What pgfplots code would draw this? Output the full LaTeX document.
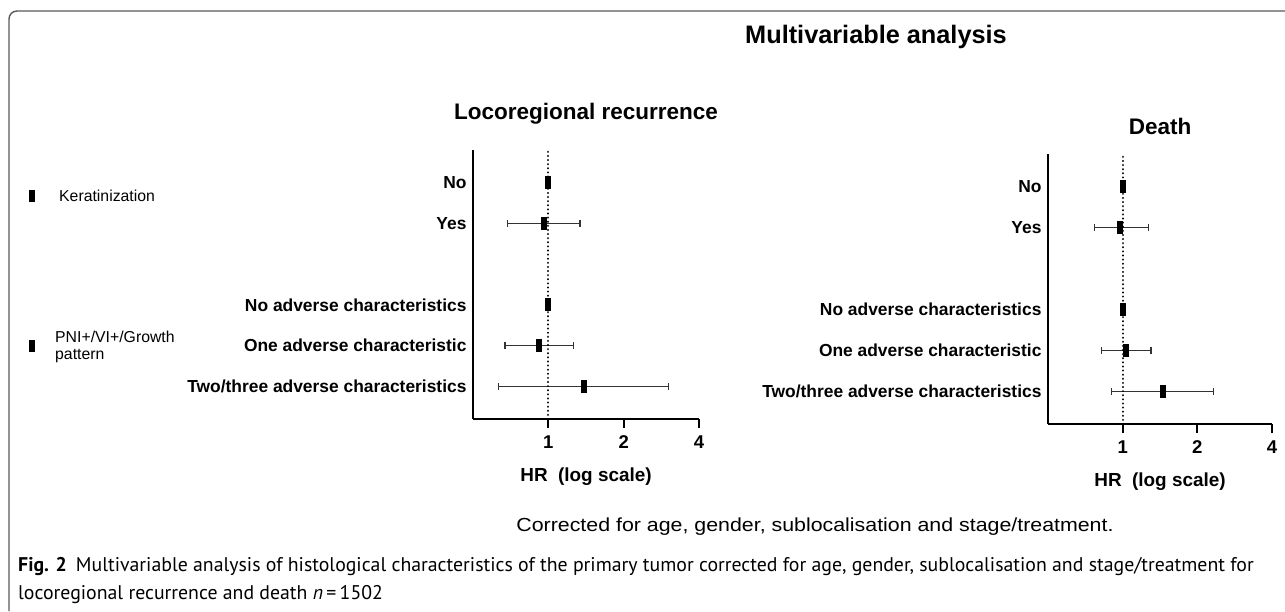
\documentclass[border=0pt]{standalone}
\usepackage{pgfplots}
\pgfplotsset{compat=1.18}
\usepackage{fontspec}
\setmainfont{Liberation Sans}
\newfontfamily\capfont{PT Sans}
\newfontfamily\widefont[FakeStretch=1.13]{Liberation Sans}
\pgfdeclareplotmark{vbox}{\pgfpathrectangle{\pgfpoint{-3pt}{-6.5pt}}{\pgfpoint{6pt}{13pt}}\pgfusepathqfill}
\begin{document}
\begin{tikzpicture}
\useasboundingbox (0,0) rectangle (1285pt,-611pt);
\draw[black!65, line width=1.4pt] (9pt,-611pt) -- (9pt,-19pt) arc[start angle=180, end angle=90, radius=8pt] -- (1285pt,-11pt);

\node[font=\bfseries\fontsize{25.3}{25.3}\selectfont] at (876pt,-37pt) {Multivariable analysis};
\node[font=\bfseries\fontsize{22.5}{22.5}\selectfont] at (586pt,-114pt) {Locoregional recurrence};
\node[font=\bfseries\fontsize{22.5}{22.5}\selectfont] at (1160pt,-126pt) {Death};

\node[anchor=west, inner sep=0pt] at (29pt,-196pt) {\rule{6pt}{12pt}};
\node[anchor=west, inner sep=0pt, font=\fontsize{15.8}{17}\selectfont] at (59pt,-196pt) {Keratinization};
\node[anchor=west, inner sep=0pt] at (29pt,-346pt) {\rule{6pt}{12pt}};
\node[anchor=west, inner sep=0pt, align=left, font=\fontsize{15.8}{17}\selectfont] at (55pt,-347pt) {PNI+/VI+/Growth\\pattern};

\begin{axis}[scale only axis, width=226pt, height=269pt, at={(473pt,-419pt)}, anchor=south west,
  xmode=log, xmin=0.5, xmax=4, ymin=-0.8, ymax=5.8,
  axis lines=left, axis line style={-, line width=2.2pt},
  xtick={1,2,4}, xticklabels={1,2,4}, ytick={0,1,2,4,5},
  yticklabels={Two/three adverse characteristics, One adverse characteristic, No adverse characteristics, Yes, No},
  xtick style={line width=2.2pt, black}, major tick length=9pt, tick align=outside,
  ytick style={draw=none},
  xticklabel style={font=\bfseries\fontsize{18.5}{18.5}\selectfont, yshift=-4pt},
  yticklabel style={font=\bfseries\fontsize{17.4}{17.4}\selectfont, xshift=6pt},
  xlabel={HR\ \ (log scale)}, xlabel style={font=\bfseries\fontsize{18.9}{18.9}\selectfont, yshift=-12pt},
  clip=false]
\addplot[black!80, line width=1.3pt, mark=|, mark size=3.5pt] coordinates {(0.685,4) (1.34,4)};
\addplot[black!80, line width=1.3pt, mark=|, mark size=3.5pt] coordinates {(0.672,1) (1.26,1)};
\addplot[black!80, line width=1.3pt, mark=|, mark size=3.5pt] coordinates {(0.634,0) (3.03,0)};
\addplot[black, line width=2.3pt, dash pattern=on 0.01pt off 4.1pt, line cap=round] coordinates {(1,-0.8) (1,5.8)};
\addplot[only marks, mark=vbox, black] coordinates {(1,5) (0.96,4) (1,2) (0.92,1) (1.386,0)};
\end{axis}

\begin{axis}[scale only axis, width=224pt, height=270pt, at={(1048pt,-424pt)}, anchor=south west,
  xmode=log, xmin=0.5, xmax=4, ymin=-0.8, ymax=5.8,
  axis lines=left, axis line style={-, line width=2.2pt},
  xtick={1,2,4}, xticklabels={1,2,4}, ytick={0,1,2,4,5},
  yticklabels={Two/three adverse characteristics, One adverse characteristic, No adverse characteristics, Yes, No},
  xtick style={line width=2.2pt, black}, major tick length=9pt, tick align=outside,
  ytick style={draw=none},
  xticklabel style={font=\bfseries\fontsize{18.5}{18.5}\selectfont, yshift=-4pt},
  yticklabel style={font=\bfseries\fontsize{17.4}{17.4}\selectfont, xshift=6pt},
  xlabel={HR\ \ (log scale)}, xlabel style={font=\bfseries\fontsize{18.9}{18.9}\selectfont, yshift=-12pt},
  clip=false]
\addplot[black!80, line width=1.3pt, mark=|, mark size=3.5pt] coordinates {(0.772,4) (1.27,4)};
\addplot[black!80, line width=1.3pt, mark=|, mark size=3.5pt] coordinates {(0.82,1) (1.30,1)};
\addplot[black!80, line width=1.3pt, mark=|, mark size=3.5pt] coordinates {(0.903,0) (2.33,0)};
\addplot[black, line width=2.3pt, dash pattern=on 0.01pt off 4.1pt, line cap=round] coordinates {(1,-0.8) (1,5.8)};
\addplot[only marks, mark=vbox, black] coordinates {(1,5) (0.98,4) (1,2) (1.03,1) (1.45,0)};
\end{axis}

\node[font=\widefont\fontsize{18.9}{18.9}\selectfont] at (815pt,-527pt) {Corrected for age, gender, sublocalisation and stage/treatment.};
\node[anchor=west, inner sep=0pt, font=\capfont\fontsize{19.8}{20}\selectfont] at (18pt,-567pt) {{\bfseries Fig. 2}\hspace{9pt}Multivariable analysis of histological characteristics of the primary tumor corrected for age, gender, sublocalisation and stage/treatment for};
\node[anchor=west, inner sep=0pt, font=\capfont\fontsize{19.8}{20}\selectfont] at (18pt,-595pt) {locoregional recurrence and death {\itshape n}\,=\,1502};
\end{tikzpicture}
\end{document}
